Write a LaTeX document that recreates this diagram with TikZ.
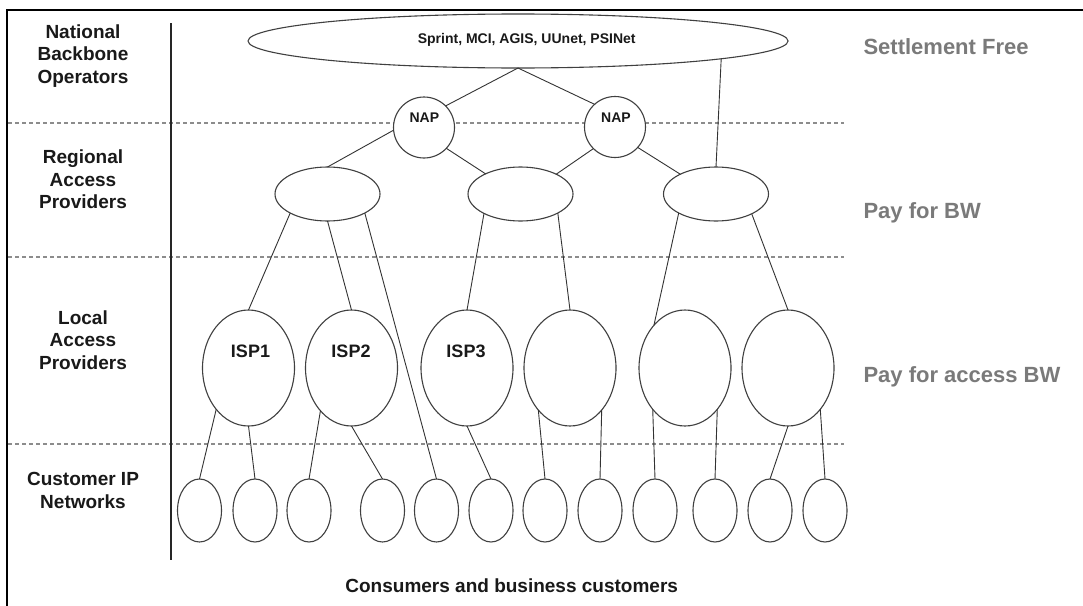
\documentclass[tikz,border=0pt]{standalone}
\usepackage{fontspec}
\setmainfont{Liberation Sans}
\usetikzlibrary{shapes.geometric}
\begin{document}
\begin{tikzpicture}[x=1pt,y=-1pt,
  ell/.style={draw=black!75, line width=1.1pt, fill=white, ellipse, inner sep=0pt, outer sep=0pt},
  cust/.style={ell, minimum width=44pt, minimum height=63pt},
  isp/.style={ell, minimum width=92pt, minimum height=116pt},
  reg/.style={ell, minimum width=105pt, minimum height=54pt},
  nap/.style={draw=black!75, line width=1.1pt, fill=white, circle, inner sep=0pt, outer sep=0pt, minimum size=61pt},
  conn/.style={draw=black!80, line width=0.9pt},
  sepline/.style={draw=black!45, line width=1.2pt, dash pattern=on 4pt off 3pt},
  lbl/.style={font=\bfseries\fontsize{19}{22.5}\selectfont, align=center, text=black!90},
  pay/.style={font=\bfseries\fontsize{22}{26}\selectfont, text=black!52, anchor=base west},
  smalltxt/.style={font=\bfseries\fontsize{14}{16}\selectfont, text=black!90},
  isptxt/.style={font=\bfseries\fontsize{18}{20}\selectfont, text=black!90},
]
\useasboundingbox (0,0) rectangle (1083,605);
\clip (0,0) rectangle (1083,605);
\fill[white] (0,0) rectangle (1083,605);
\draw[line width=2pt] (7,10) rectangle (1100,620);
% layer separators
\draw[sepline] (8,123) -- (844,123);
\draw[sepline] (8,257) -- (844,257);
\draw[sepline] (8,444) -- (844,444);
\draw[line width=1.1pt, black!85] (171,23) -- (171,560);
% nodes
\node[ell, minimum width=540pt, minimum height=54pt] (bb) at (518,41) {};
\node[nap] (nap1) at (424,127.5) {};
\node[nap] (nap2) at (615,127) {};
\node[reg] (r1) at (327.5,194) {};
\node[reg] (r2) at (520.5,194) {};
\node[reg] (r3) at (716,194) {};
\node[isp] (isp1) at (248.5,368) {};
\node[isp] (isp2) at (351.5,368) {};
\node[isp] (isp3) at (467,368) {};
\node[isp] (isp4) at (570,368) {};
\node[isp] (isp5) at (685,368) {};
\node[isp] (isp6) at (788,368) {};
\foreach \i/\x in {1/199.5,2/255,3/309,4/382.5,5/436.5,6/491,7/545,8/600,9/655,10/715,11/770,12/825}
  \node[cust] (c\i) at (\x,510.5) {};
% connectors
\draw[conn] (bb.south) -- (nap1.45.6);
\draw[conn] (bb.south) -- (nap2.132);
\draw[conn] (nap1.185) -- (r1.north);
\draw[conn] (nap1.-43.5) -- (r2.150.6);
\draw[conn] (nap2.225) -- (r2.29.4);
\draw[conn] (nap2.-42) -- (r3.151);
\draw[conn] (bb.-5.7) -- (r3.north);
\draw[conn] (r1.207) -- (isp1.north);
\draw[conn] (r1.south) -- (isp2.north);
\draw[conn] (r1.-27) -- (c5.north);
\draw[conn] (r2.208.6) -- (isp3.north);
\draw[conn] (r2.-27) -- (isp4.north);
\draw[conn] (r3.207) -- (isp5.126.4);
\draw[conn] (r3.-29.6) -- (isp6.north);
\draw[conn] (isp1.232.5) -- (c1.north);
\draw[conn] (isp1.south) -- (c2.north);
\draw[conn] (isp2.234) -- (c3.north);
\draw[conn] (isp2.south) -- (c4.north);
\draw[conn] (isp3.south) -- (c6.north);
\draw[conn] (isp4.233.4) -- (c7.north);
\draw[conn] (isp4.-53.4) -- (c8.north);
\draw[conn] (isp5.232.5) -- (c9.north);
\draw[conn] (isp5.-52) -- (c10.north);
\draw[conn] (isp6.south) -- (c11.north);
\draw[conn] (isp6.-52) -- (c12.north);
% texts in nodes
\node[smalltxt] (bbt) at (526.7,40) {Sprint, MCI, AGIS, UUnet, PSINet};
\node[smalltxt] (nap1t) at (424.4,118) {NAP};
\node[smalltxt] (nap2t) at (616,118) {NAP};
\node[isptxt] (isp1t) at (250.5,351) {ISP1};
\node[isptxt] (isp2t) at (351,351) {ISP2};
\node[isptxt] (isp3t) at (466,351) {ISP3};
% side labels
\node[lbl] (l1) at (83,56) {National\\Backbone\\Operators};
\node[lbl] (l2) at (83,179.5) {Regional\\Access\\Providers};
\node[lbl] (l3) at (83,340) {Local\\Access\\Providers};
\node[lbl] (l4) at (83,490.5) {Customer IP\\Networks};
\node[lbl] (l5) at (511.7,586) {Consumers and business customers};
\node[pay] (p1) at (860,54.6) {Settlement Free};
\node[pay] (p2) at (860,218.6) {Pay for BW};
\node[pay] (p3) at (860,382.9) {Pay for access BW};
\end{tikzpicture}
\end{document}
